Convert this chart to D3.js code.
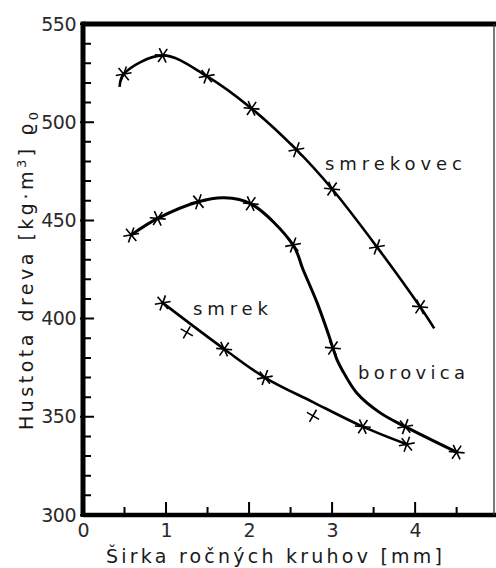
<!DOCTYPE html>
<html>
<head>
<meta charset="utf-8">
<script src="https://cdn.jsdelivr.net/npm/d3@7"></script>
<style>
  body { margin: 0; background: #fff; }
  svg { display: block; }
  text { font-family: "DejaVu Sans", sans-serif; fill: #1a1a1a; }
</style>
</head>
<body>
<div id="chart"></div>
<script>
// density of wood vs. ring width
var xTicks = [0, 1, 2, 3, 4];
var xMinor = [0.5, 1.5, 2.5, 3.5, 4.5];
var yTicks = [300, 350, 400, 450, 500, 550];

// measured points (marks)
var smrekovecPts = [[0.49, 524.5], [0.96, 534], [1.49, 523.5], [2.03, 507], [2.57, 486], [3.0, 466], [3.54, 436.5], [4.06, 406]];
var borovicaPts = [[0.58, 442.6], [0.9, 451], [1.39, 459.5], [2.02, 458.5], [2.53, 437.5], [3.01, 385], [3.88, 345], [4.5, 332]];
var smrekPts = [[0.96, 408], [1.7, 384.5], [2.19, 370], [3.37, 345], [3.9, 336]];
var smrekOffPts = [[1.25, 393], [2.77, 350.5]];

// fitted curves
var smrekovecFit = [[0.44, 518], [0.49, 524.5], [0.96, 534], [1.49, 523.5], [2.03, 507], [2.57, 486], [3.0, 466], [3.54, 436.5], [4.06, 406], [4.23, 395]];
var borovicaFit = [[0.58, 442.6], [0.9, 451], [1.39, 459.5], [1.7, 461.5], [2.02, 458.5], [2.53, 437.5], [2.65, 425], [2.82, 408], [2.96, 391.5], [3.01, 385], [3.06, 379], [3.12, 374], [3.3, 362], [3.58, 352], [3.88, 345], [4.5, 332]];
var smrekFit = [[0.96, 408], [1.7, 384.5], [2.19, 370], [2.77, 357.5], [3.37, 345], [3.9, 336]];

var seriesLabels = [
    {text: "smrekovec", x: 325, y: 170, w: 137},
    {text: "borovica", x: 358, y: 379, w: 107},
    {text: "smrek", x: 193, y: 315, w: 75}
];

var width = 496, height = 568;
var svg = d3.select("#chart").append("svg")
    .attr("width", width)
    .attr("height", height);

var x = d3.scaleLinear().domain([0, 4.95]).range([83, 494]);
var y = d3.scaleLinear().domain([300, 550]).range([515, 24]);

// tick labels from the axis generators
var yAxis = svg.append("g")
    .attr("transform", "translate(" + x(0) + ",0)")
    .call(d3.axisLeft(y).tickValues(yTicks).tickSize(0).tickPadding(7));
var xAxis = svg.append("g")
    .attr("transform", "translate(0," + y(300) + ")")
    .call(d3.axisBottom(x).tickValues(xTicks).tickSize(0).tickPadding(9).tickFormat(d3.format("d")));
svg.selectAll(".domain").remove();
svg.selectAll(".tick line").remove();
svg.selectAll(".tick text")
    .style("font-family", "DejaVu Sans, sans-serif")
    .style("font-size", "19px")
    .style("fill", "#2a2a2a");
yAxis.selectAll(".tick text").style("letter-spacing", "-0.5px");

// frame
svg.append("line").attr("x1", x(0)).attr("x2", width).attr("y1", y(550)).attr("y2", y(550))
    .attr("stroke", "#000").attr("stroke-width", 5);
svg.append("line").attr("x1", x(0)).attr("x2", width).attr("y1", y(300)).attr("y2", y(300))
    .attr("stroke", "#000").attr("stroke-width", 4.5);
svg.append("line").attr("x1", x(0)).attr("x2", x(0)).attr("y1", y(550) - 2.5).attr("y2", y(300) + 2)
    .attr("stroke", "#000").attr("stroke-width", 5);
svg.append("line").attr("x1", x(4.95)).attr("x2", x(4.95)).attr("y1", y(550)).attr("y2", y(300))
    .attr("stroke", "#333").attr("stroke-width", 1.3);

// inward tick marks, one path
var yMinor = d3.range(310, 550, 10).filter(function(d) { return d % 50; });
var tickPath = d3.path();
yTicks.forEach(function(d) { tickPath.moveTo(x(0) - 3, y(d)); tickPath.lineTo(x(0) + 11, y(d)); });
yMinor.forEach(function(d) { tickPath.moveTo(x(0), y(d)); tickPath.lineTo(x(0) + 8, y(d)); });
xTicks.forEach(function(d) { tickPath.moveTo(x(d), y(300)); tickPath.lineTo(x(d), y(300) - 13); });
xMinor.forEach(function(d) { tickPath.moveTo(x(d), y(300)); tickPath.lineTo(x(d), y(300) - 8); });
svg.append("path")
    .attr("d", tickPath.toString())
    .style("stroke", "#000")
    .style("stroke-width", "2px")
    .style("fill", "none");

// curves
var line = d3.line()
    .x(function(d) { return x(d[0]); })
    .y(function(d) { return y(d[1]); })
    .curve(d3.curveCatmullRom.alpha(0.5));

[smrekovecFit, borovicaFit, smrekFit].forEach(function(fit, i) {
    svg.append("path")
        .attr("d", line(fit))
        .attr("fill", "none")
        .attr("stroke", "#000")
        .attr("stroke-width", i == 1 ? 3 : 2.6);
});

// asterisk marks
function star(n, r, rot) {
    var p = "";
    for (var k = 0; k < n; k++) {
        var a = (rot + k * 180 / n) * Math.PI / 180;
        var dx = r * Math.cos(a), dy = r * Math.sin(a);
        p += "M" + (-dx) + "," + (-dy) + "L" + dx + "," + dy;
    }
    return p;
}

function marks(pts, n, r) {
    svg.append("g").selectAll("path")
        .data(pts)
        .join("path")
        .attr("transform", function(d) { return "translate(" + x(d[0]) + "," + y(d[1]) + ")"; })
        .attr("d", function(d, i) { return star(n, r, n == 2 ? 30 : (i % 2 ? 5 : -10)); })
        .attr("stroke", "#000")
        .attr("stroke-width", 1.6)
        .attr("fill", "none");
}
marks(smrekovecPts, 3, 8);
marks(borovicaPts, 3, 8);
marks(smrekPts, 3, 8);
marks(smrekOffPts, 2, 7);

// series labels
svg.append("g").selectAll("text")
    .data(seriesLabels)
    .join("text")
    .attr("x", function(d) { return d.x; })
    .attr("y", function(d) { return d.y; })
    .attr("textLength", function(d) { return d.w; })
    .attr("lengthAdjust", "spacing")
    .style("font-size", "18px")
    .text(function(d) { return d.text; });

// axis titles
svg.append("text")
    .attr("x", 106)
    .attr("y", 563)
    .attr("textLength", 336)
    .attr("lengthAdjust", "spacing")
    .style("font-size", "19px")
    .text("Širka ročných kruhov [mm]");

var yt = svg.append("text")
    .attr("transform", "translate(33,430) rotate(-90)")
    .attr("textLength", 318)
    .attr("lengthAdjust", "spacing")
    .style("font-size", "19px");
yt.append("tspan").text("Hustota dreva  [kg·m");
yt.append("tspan").attr("dy", -7).style("font-size", "13px").text("3");
yt.append("tspan").attr("dy", 7).text("] ϱ");
yt.append("tspan").attr("dy", 5).style("font-size", "13px").text("0");
</script>
</body>
</html>
